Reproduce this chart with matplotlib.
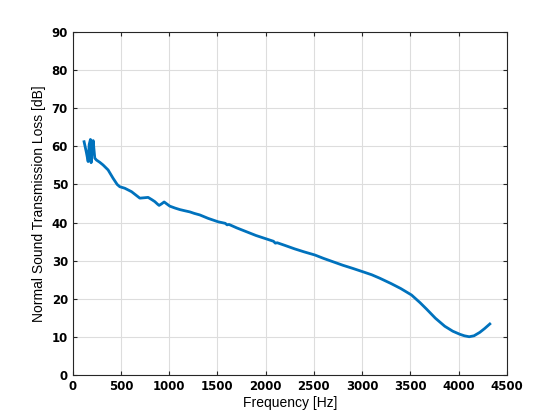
import numpy as np
import matplotlib.pyplot as plt

# Transmission loss curve
freq = [117, 140, 159, 170, 183, 190, 200, 211, 228, 245, 280, 314, 366, 418,
        460, 487, 539, 609, 695, 740, 781, 820, 850, 880, 895, 920, 947,
        1006, 1060, 1110, 1160, 1213, 1260, 1317, 1403, 1507, 1580, 1600,
        1620, 1700, 1800, 1900, 2008, 2080, 2100, 2120, 2200, 2300, 2400,
        2509, 2600, 2700, 2800, 2900, 3007, 3100, 3183, 3300, 3400, 3512,
        3600, 3668, 3760, 3857, 3940, 4013, 4060, 4110, 4160, 4220, 4270,
        4324]
loss = [61.2, 58.5, 56.0, 60.5, 61.8, 55.7, 59.0, 61.5, 56.9, 56.4, 55.8,
        55.1, 53.8, 51.6, 50.0, 49.4, 49.0, 48.1, 46.4, 46.5, 46.6, 46.0,
        45.5, 44.8, 44.5, 44.9, 45.4, 44.3, 43.8, 43.4, 43.1, 42.8, 42.4,
        42.0, 41.1, 40.2, 39.8, 39.4, 39.5, 38.6, 37.6, 36.6, 35.7, 35.1,
        34.6, 34.7, 34.0, 33.1, 32.3, 31.5, 30.6, 29.7, 28.8, 28.0, 27.1,
        26.3, 25.4, 24.0, 22.7, 21.0, 19.0, 17.3, 14.9, 12.8, 11.5, 10.7,
        10.3, 10.05, 10.3, 11.2, 12.2, 13.4]

xticks = np.arange(0, 4501, 500)
yticks = np.arange(0, 91, 10)

fig = plt.figure(figsize=(5.6, 4.2), dpi=100)
ax = fig.add_axes([0.130, 0.107, 0.775, 0.817])

ax.plot(freq, loss, color='#0072BD', linewidth=2.0, solid_joinstyle='round')

ax.set_xlim(0, 4500)
ax.set_ylim(0, 90)
ax.set_xticks(xticks)
ax.set_yticks(yticks)
ax.grid(True, color='#dddddd', linewidth=0.8)
ax.set_axisbelow(True)
ax.tick_params(direction='in', top=True, right=True, length=3, width=0.8,
               labelsize=8.5, colors='#262626', labelcolor='black')
for lab in ax.get_xticklabels() + ax.get_yticklabels():
    lab.set_fontweight('bold')
    lab.set_family('Liberation Sans Narrow')
for sp in ax.spines.values():
    sp.set_color('#262626')
    sp.set_linewidth(0.8)

ax.set_xlabel('Frequency [Hz]', fontsize=10, family='Liberation Sans', labelpad=2)
ax.set_ylabel('Normal Sound Transmission Loss [dB]', fontsize=10,
              family='Liberation Sans', labelpad=4)

fig.savefig('out.png', dpi=100)
